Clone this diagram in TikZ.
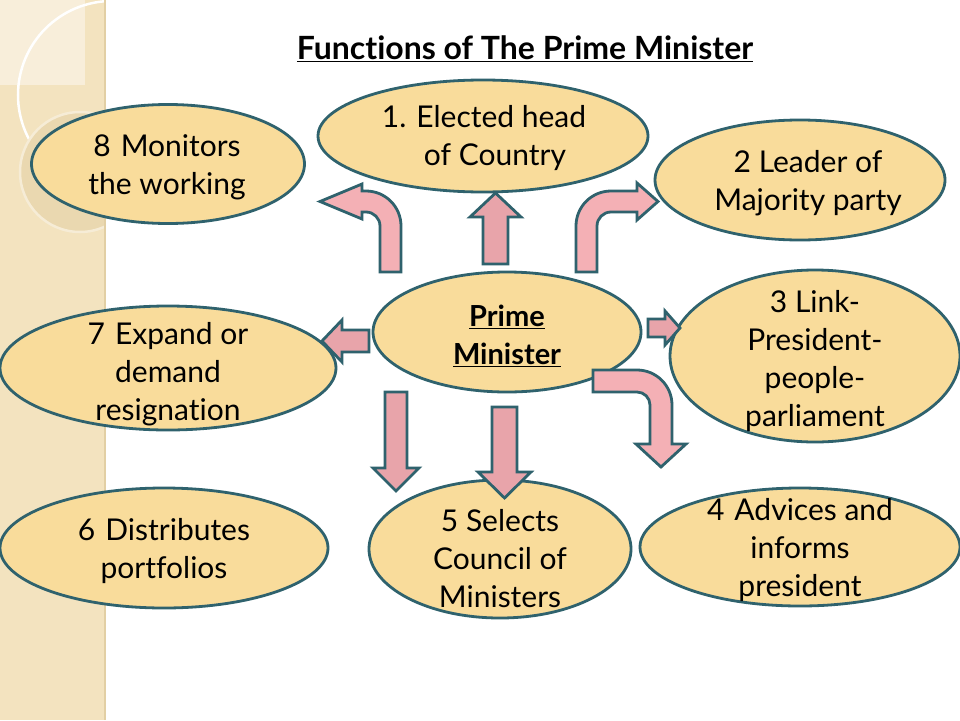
\documentclass[tikz,border=0pt]{standalone}
\usepackage{fontspec}
\setmainfont{Lato}[Ligatures={NoCommon}]
\usetikzlibrary{shapes.geometric}
\definecolor{ellfill}{HTML}{F9DC9B}
\definecolor{edgec}{HTML}{2F626D}
\definecolor{pinkA}{HTML}{F4B0B5}
\definecolor{pinkB}{HTML}{E8A4AA}
\definecolor{strip}{HTML}{F3E3BF}
\definecolor{stripl}{HTML}{F8EEDA}
\definecolor{discc}{HTML}{EAD8B0}
\definecolor{discl}{HTML}{F6ECD6}
\definecolor{stripline}{HTML}{E2CFA4}
\begin{document}
\begin{tikzpicture}[x=1pt,y=-1pt,
  ell/.style={ellipse, draw=edgec, fill=ellfill, line width=2.8pt, inner sep=0pt},
  txt/.style={align=center, inner sep=0pt, font=\fontsize{30}{38}\selectfont},
  blk/.style={draw=edgec, fill=pinkA, line width=2.8pt, line join=miter},
  blkd/.style={blk, fill=pinkB}]
\useasboundingbox (0,0) rectangle (960,720);
\fill[white] (0,0) rectangle (960,720);
% left decorative strip
\fill[strip] (0,0) rectangle (105,720);
\fill[stripl] (0,0) rectangle (85,85);
\begin{scope}
  \clip (0,0) rectangle (105,720);
  \draw[white, line width=2.5pt] (112,95) circle[radius=94];
  \fill[discc, draw=discl, line width=2.5pt] (80,172) circle[radius=60];
\end{scope}
\draw[stripline, line width=1.5pt] (105,0) -- (105,720);

% title
\node[inner sep=0pt, font=\fontsize{32}{36}\selectfont\bfseries] (title) at (525,49) {\underline{Functions of The Prime Minister}};

% ellipses
\node[ell, minimum width=330pt, minimum height=112pt] (e1) at (483,136) {};
\node[ell, minimum width=290pt, minimum height=120pt] (e2) at (800,180) {};
\node[ell, minimum width=273pt, minimum height=119pt] (e8) at (168,164) {};
\node[ell, minimum width=268pt, minimum height=120pt] (pm) at (507,332) {};
\node[ell, minimum width=290pt, minimum height=172pt] (e3) at (815,356) {};
\node[ell, minimum width=336pt, minimum height=124pt] (e7) at (168,368) {};
\node[ell, minimum width=328pt, minimum height=120pt] (e6) at (164,548) {};
\node[ell, minimum width=262pt, minimum height=138pt] (e5) at (500,549) {};
\node[ell, minimum width=320pt, minimum height=118pt] (e4) at (800,547) {};

% texts
\node[txt, align=left] (t1) at (484,138) {1.\hspace{10pt}Elected head\\\hspace{42pt}of Country};
\node[txt] (t2) at (808,183) {2 Leader of\\Majority party};
\node[txt] (t8) at (167,167) {8\hspace{10pt}Monitors\\the working};
\node[txt, font=\fontsize{29}{38}\selectfont\bfseries] (tpm) at (507,336) {\underline{Prime}\\\underline{Minister}};
\node[txt] (t3) at (815,361) {3 Link-\\President-\\people-\\parliament};
\node[txt] (t7) at (168,374) {7\hspace{10pt}Expand or\\demand\\resignation};
\node[txt] (t6) at (164,551) {6\hspace{10pt}Distributes\\portfolios};
\node[txt] (t5) at (500,559) {5 Selects\\Council of\\Ministers};
\node[txt] (t4) at (800,550) {4\hspace{10pt}Advices and\\informs\\president};

% block arrows
% up
\draw[blkd] (483,264) -- (483,217) -- (470,217) -- (495.5,193) -- (521,217) -- (508,217) -- (508,264) -- cycle;
% left bent (up then left)
\draw[blk] (380,272) -- (380,226) arc[start angle=0,end angle=-90,radius=14] -- (362,212) -- (362,219) -- (320,201.5) -- (362,184) -- (362,191) -- (366,191) arc[start angle=-90,end angle=0,radius=35] -- (401,272) -- cycle;
% right bent (up then right)
\draw[blk] (576,272) -- (576,226) arc[start angle=180,end angle=270,radius=35] -- (637,191) -- (637,183) -- (658,201.5) -- (637,220) -- (637,212) -- (611,212) arc[start angle=270,end angle=180,radius=14] -- (597,272) -- cycle;
% right small
\draw[blkd] (648,319) -- (665,319) -- (665,311) -- (680,328) -- (665,345) -- (665,337) -- (648,337) -- cycle;
% right then down bent
\draw[blk] (593,370) -- (637,370) arc[start angle=-90,end angle=0,radius=35] -- (672,444) -- (686,444) -- (661,467) -- (636,444) -- (650,444) -- (650,405) arc[start angle=0,end angle=-90,radius=13] -- (593,392) -- cycle;
% left small
\draw[blkd] (369,330) -- (342,330) -- (342,320) -- (322,341) -- (342,362) -- (342,352) -- (369,352) -- cycle;
% down 1
\draw[blkd] (385,392) -- (407,392) -- (407,468) -- (419,468) -- (396,491) -- (373,468) -- (385,468) -- cycle;
% down 2
\draw[blkd] (492,407) -- (517,407) -- (517,472) -- (531,472) -- (504.5,498) -- (478,472) -- (492,472) -- cycle;
\end{tikzpicture}
\end{document}
